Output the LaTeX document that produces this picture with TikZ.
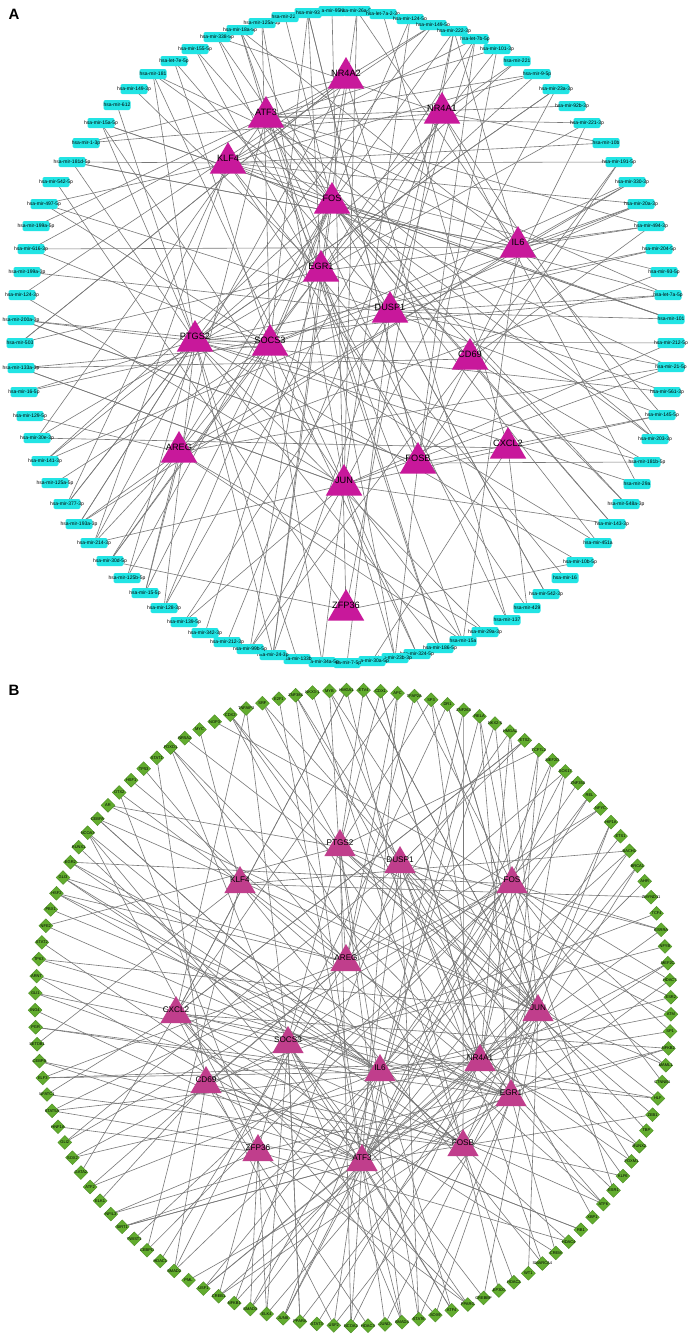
\documentclass[tikz,border=0pt]{standalone}
\usepackage{fontspec}
\setmainfont{Liberation Sans}
\usetikzlibrary{shapes.geometric,backgrounds}
\definecolor{mircyan}{RGB}{34,228,228}
\definecolor{trimagA}{RGB}{200,24,155}
\definecolor{trimagB}{RGB}{192,62,140}
\definecolor{tfgreen}{RGB}{98,172,46}
\definecolor{tfgreenD}{RGB}{74,140,34}
\definecolor{edgegray}{RGB}{120,120,120}
\tikzset{
  mirbox/.style={rectangle, rounded corners=1pt, fill=mircyan, minimum width=13.5pt, minimum height=5pt, inner sep=0pt},
  mirtext/.style={font=\fontsize{2.5}{3}\selectfont, text=black, inner sep=0pt},
  tfdia/.style={diamond, aspect=1, fill=tfgreen, draw=tfgreenD, line width=0.2pt, minimum size=7pt, inner sep=0pt},
  tftext/.style={font=\fontsize{2}{2.4}\selectfont, text=black, inner sep=0pt},
  triA/.style={regular polygon, regular polygon sides=3, fill=trimagA, minimum size=21pt, inner sep=0pt},
  triB/.style={regular polygon, regular polygon sides=3, fill=trimagB, minimum size=18pt, inner sep=0pt},
  trilabA/.style={font=\fontsize{4.6}{5}\selectfont, text=black, inner sep=0pt},
  trilabB/.style={font=\fontsize{4.1}{4.5}\selectfont, text=black, inner sep=0pt},
  link/.style={draw=edgegray, line width=0.3pt},
  panel/.style={font=\bfseries\fontsize{7.5}{8}\selectfont, inner sep=0pt}
}
\begin{document}
\begin{tikzpicture}[x=0.5pt,y=-0.5pt]
\useasboundingbox (0,0) rectangle (692,1339);
% ---------- Panel A ----------
\node[panel] (labA) at (14,14) {A};
\foreach \x/\y/\t [count=\i] in {
332/11/hsa-mir-95-3p, 357/11/hsa-mir-26a-5p, 383/14/hsa-let-7a-2-3p, 410/19/hsa-mir-124-5p,
433/25/hsa-mir-149-5p, 454/31/hsa-mir-222-3p, 475/39/hsa-let-7b-5p, 497/49/hsa-mir-101-3p,
517/61/hsa-mir-221, 537/74/hsa-mir-9-5p, 556/89/hsa-mir-23a-3p, 572/106/hsa-mir-92b-3p,
587/123/hsa-mir-221-3p, 606/143/hsa-mir-10b, 619/162/hsa-mir-191-5p, 632/182/hsa-mir-330-3p,
641/204/hsa-mir-20a-3p, 651/226/hsa-mir-494-3p, 659/249/hsa-mir-204-5p, 664/272/hsa-mir-93-5p,
668/295/hsa-let-7a-5p, 671/319/hsa-mir-101, 671/343/hsa-mir-212-5p, 671/367/hsa-mir-21-5p,
667/392/hsa-mir-561-3p, 662/415/hsa-mir-145-5p, 655/439/hsa-mir-203-3p, 647/462/hsa-mir-181b-5p,
637/484/hsa-mir-29a, 626/504/hsa-mir-548a-3p, 612/524/hsa-mir-143-3p, 598/543/hsa-mir-451a,
580/562/hsa-mir-10b-5p, 565/578/hsa-mir-16, 546/594/hsa-mir-542-3p, 527/608/hsa-mir-429,
507/620/hsa-mir-137, 485/632/hsa-mir-29a-3p, 463/641/hsa-mir-15a, 440/648/hsa-mir-186-5p,
417/654/hsa-mir-324-5p, 395/658/hsa-mir-23b-3p, 372/661/hsa-mir-30a-5p, 347/663/hsa-mir-7-5p,
322/662/hsa-mir-34a-5p, 297/659/hsa-mir-133b, 273/655/hsa-mir-24-3p, 250/649/hsa-mir-99b-5p,
227/642/hsa-mir-212-3p, 205/633/hsa-mir-342-3p, 184/622/hsa-mir-139-5p, 164/608/hsa-mir-128-3p,
145/593/hsa-mir-15-5p, 127/578/hsa-mir-125b-5p, 110/561/hsa-mir-30d-5p, 94/543/hsa-mir-214-3p,
79/524/hsa-mir-193a-3p, 67/504/hsa-mir-377-3p, 55/483/hsa-mir-125a-5p, 45/461/hsa-mir-141-3p,
37/438/hsa-mir-30e-3p, 30/416/hsa-mir-129-5p, 24/392/hsa-mir-16-5p, 21/368/hsa-mir-133a-3p,
20/343/hsa-mir-503, 21/320/hsa-mir-200a-3p, 22/295/hsa-mir-124-3p, 27/272/hsa-mir-199a-3p,
31/249/hsa-mir-616-3p, 36/226/hsa-mir-199a-5p, 44/204/hsa-mir-497-5p, 56/182/hsa-mir-542-5p,
72/162/hsa-mir-181d-5p, 86/143/hsa-mir-1-3p, 101/123/hsa-mir-15a-5p, 117/105/hsa-mir-612,
134/89/hsa-mir-149-3p, 153/74/hsa-mir-181, 174/61/hsa-let-7e-5p, 195/49/hsa-mir-155-5p,
217/37/hsa-mir-338-5p, 240/30/hsa-mir-18a-5p, 262/23/hsa-mir-125a-3p, 285/17/hsa-mir-223,
308/13/hsa-mir-93}
{ \node[mirbox, label={[mirtext]center:\t}] (mA\i) at (\x,\y) {}; }
\foreach \x/\y/\t [count=\i] in {
346/73/NR4A2, 266/112/ATF3, 442/108/NR4A1, 228/158/KLF4, 332/198/FOS, 518/242/IL6,
321/266/EGR1, 390/307/DUSP1, 195/336/PTGS2, 270/340/SOCS3, 470/354/CD69, 179/447/AREG,
418/458/FOSB, 508/443/CXCL2, 344/480/JUN, 346/605/ZFP36}
{ \node[triA] (tA\i) at (\x,\y+5) {}; \node[trilabA] (lA\i) at (\x,\y) {\t}; }
% ---------- Panel B ----------
\node[panel] (labB) at (14,690) {B};
\foreach \t [count=\i from 0] in {
AR, OTX2, HSF1, TP53, STAT1, FOXO1, NR5A2, MYC, NOP3, CDX2, TNFAIP3, SRF, E2F1, ZNF384, NKX3-1,
MYB, HMGA1, ETV4, CDX1, APC, TFAP2A, SP3, DR1, ZNF263, RELA, NKX2-5, HMGA2, ETS2, TCF7L2, MEF2D,
SOX17, ZNF350, REL, NFYC, HIF1A, ETS1, BACH1, BRCA1, AHR, ZMYND11, TCF4, ESRRA, NFYB, MEF2C,
HDAC7, ESR2, ATM, SP1, NFKB2, MAML1, CTNNB1, HLF, ZEB1, TBP, RUNX2, FOXM1, KLF6, ESR1, ATF6,
XBP1, RB1, HDAC4, CREM, SMARCA4, WT1, HDAC2, EP300, CREBBP, PPARG, ATF4, SOX9, STAT6, SMAD4,
JUND, HDAC3, NCOA2, USF2, STAT3, PPARA, JUNB, ELK4, SMAD3, NFKB1, CREB1, USF1, PML, SMAD2,
HDAC1, CEBPD, TWIST1, SIRT1, NFIL3, ELK1, ATF2, GATA2, SOX2, GLI2, HNF1A, STAT5A, NFATC1, ELF3,
CEBPB, SETDB1, PGR, ING4, GLI1, ARNT, TP63, STAT2, NFE2, PBX1, HSF2, GLI3, EGR2, RUNX1, NCOA3, CEBPA}
{ \pgfmathsetmacro{\ang}{140.4-\i*3.077}
  \node[tfdia, label={[tftext]center:\t}] (mB\i) at ({353+318*cos(\ang)},{1008-318*sin(\ang)}) {}; }
\foreach \x/\y/\t [count=\i] in {
340/843/PTGS2, 400/860/DUSP1, 240/880/KLF4, 512/880/FOS, 346/958/AREG, 176/1010/CXCL2,
538/1008/JUN, 288/1040/SOCS3, 480/1058/NR4A1, 380/1068/IL6, 206/1080/CD69, 511/1093/EGR1,
463/1143/FOSB, 362/1158/ATF3, 258/1148/ZFP36}
{ \node[triB] (tB\i) at (\x,\y+4) {}; \node[trilabB] (lB\i) at (\x,\y) {\t}; }
% ---------- connectors ----------
\begin{pgfonlayer}{background}
\fill[white] (0,0) rectangle (692,1339);
\pgfmathsetseed{12}
\foreach \i in {1,...,85} {
  \pgfmathrandominteger{\n}{1}{4}
  \foreach \j in {1,...,\n} {
    \pgfmathrandominteger{\r}{0}{23}
    \pgfmathtruncatemacro{\k}{{1,2,3,4,5,6,7,8,9,10,11,12,13,14,15,16,15,5,7,8,9,10,13,4}[\r]}
    \draw[link] (tA\k.center) -- (mA\i.center);
  }
}
\foreach \i in {0,...,116} {
  \pgfmathrandominteger{\n}{1}{3}
  \foreach \j in {1,...,\n} {
    \pgfmathrandominteger{\r}{0}{21}
    \pgfmathtruncatemacro{\k}{{1,2,3,4,5,6,7,8,9,10,11,12,13,14,15,1,4,7,9,10,12,14}[\r]}
    \draw[link] (tB\k.center) -- (mB\i.center);
  }
}
\end{pgfonlayer}
\end{tikzpicture}
\end{document}
